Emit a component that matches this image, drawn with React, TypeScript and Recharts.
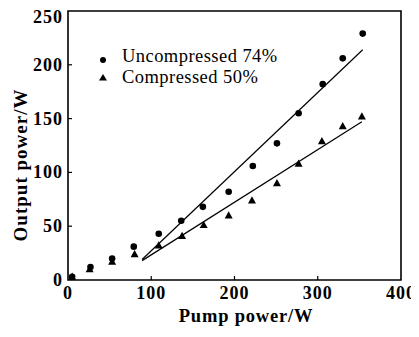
import React from "react";
import { ComposedChart, Scatter, XAxis, YAxis, ReferenceArea } from "recharts";

const uncompX = [5, 27, 53, 79, 109, 136, 162, 193, 222, 251, 277, 306, 330, 354];
const uncompY = [3, 12, 20, 31, 43, 55, 68, 82, 106, 127, 155, 182, 206, 229];
const compX = [5, 26, 53, 80, 109, 137, 163, 193, 221, 251, 277, 305, 330, 353];
const compY = [3, 10, 17, 24, 32, 41, 51, 60, 74, 90, 108, 129, 143, 152];
const uncompFitX = [89, 354];
const uncompFitY = [19, 214];
const compFitX = [89, 353];
const compFitY = [18, 147];
const xTicks = [0, 100, 200, 300, 400];
const yTicks = [0, 50, 100, 150, 200, 250];
const legendLabels = ["Uncompressed 74%", "Compressed 50%"];
const xTitle = "Pump power/W";
const yTitle = "Output power/W";

const zip = (xs: number[], ys: number[]) => xs.map((x, i) => ({ x, y: ys[i] }));
const uncompData = zip(uncompX, uncompY);
const compData = zip(compX, compY);
const uncompFit = zip(uncompFitX, uncompFitY);
const compFit = zip(compFitX, compFitY);

const FONT = "'Liberation Serif', 'Times New Roman', Times, serif";

const Circle = (p: any) => <circle cx={p.cx} cy={p.cy} r={3.3} fill="#000" />;
const Tri = (p: any) => (
  <path d={`M${p.cx},${p.cy - 4.2} L${p.cx + 4},${p.cy + 3} L${p.cx - 4},${p.cy + 3} Z`} fill="#000" />
);
const Nothing = () => <g />;

const tickStyle = { fontFamily: FONT, fontSize: 18, fontWeight: 700, letterSpacing: 1 };

const XTick = (p: any) => {
  const v = p.payload.value;
  return (
    <g>
      {v !== 0 && v !== 400 && <line x1={p.x} x2={p.x} y1={p.y} y2={p.y - 4} stroke="#000" strokeWidth={1.2} />}
      <text x={p.x} y={p.y + 19} textAnchor="middle" style={tickStyle} fill="#000">
        {v}
      </text>
    </g>
  );
};

const YTick = (p: any) => {
  const v = p.payload.value;
  return (
    <g>
      {v !== 0 && v !== 250 && <line x1={p.x} x2={p.x + 4} y1={p.y} y2={p.y} stroke="#000" strokeWidth={1.2} />}
      <text x={p.x - 5} y={p.y + 6} textAnchor="end" style={tickStyle} fill="#000">
        {v}
      </text>
    </g>
  );
};

export default function App() {
  const W = 411;
  const H = 329;
  const legendText = { fontFamily: FONT, fontSize: 18.5, letterSpacing: 0.45 };
  return (
    <div style={{ position: "relative", width: W, height: H }}>
      <ComposedChart width={W} height={H} margin={{ top: 3, right: 18, bottom: 0, left: 0 }}>
        <XAxis
          type="number"
          dataKey="x"
          domain={[0, 400]}
          ticks={xTicks}
          tick={<XTick />}
          tickLine={false}
          axisLine={false}
          tickSize={0}
          tickMargin={0}
          height={57}
          allowDataOverflow
        />
        <YAxis
          type="number"
          dataKey="y"
          domain={[0, 250]}
          ticks={yTicks}
          tick={<YTick />}
          tickLine={false}
          axisLine={false}
          tickSize={0}
          tickMargin={0}
          width={60}
          allowDataOverflow
        />
        <ReferenceArea x1={0} x2={400} y1={0} y2={250} fill="none" stroke="#000" strokeWidth={1.6} fillOpacity={0} />
        <Scatter data={uncompFit} shape={<Nothing />} line={{ stroke: "#000", strokeWidth: 1.2 }} isAnimationActive={false} />
        <Scatter data={compFit} shape={<Nothing />} line={{ stroke: "#000", strokeWidth: 1.2 }} isAnimationActive={false} />
        <Scatter data={uncompData} shape={<Circle />} isAnimationActive={false} />
        <Scatter data={compData} shape={<Tri />} isAnimationActive={false} />
      </ComposedChart>
      <svg width={W} height={H} style={{ position: "absolute", left: 0, top: 0, pointerEvents: "none" }}>
        <circle cx={95} cy={52} r={3} fill="#000" />
        <path d="M95,66 L99,72.5 L91,72.5 Z" fill="#000" />
        <text x={114} y={54} style={legendText} fill="#000">{legendLabels[0]}</text>
        <text x={114} y={74.5} style={legendText} fill="#000">{legendLabels[1]}</text>
        <text x={238} y={314} textAnchor="middle" style={{ fontFamily: FONT, fontSize: 18.5, fontWeight: 700, letterSpacing: 0.8 }} fill="#000">
          {xTitle}
        </text>
        <text
          x={0}
          y={0}
          transform="translate(19,157) rotate(-90)"
          textAnchor="middle"
          style={{ fontFamily: FONT, fontSize: 19, fontWeight: 700, letterSpacing: 1 }}
          fill="#000"
        >
          {yTitle}
        </text>
      </svg>
    </div>
  );
}
